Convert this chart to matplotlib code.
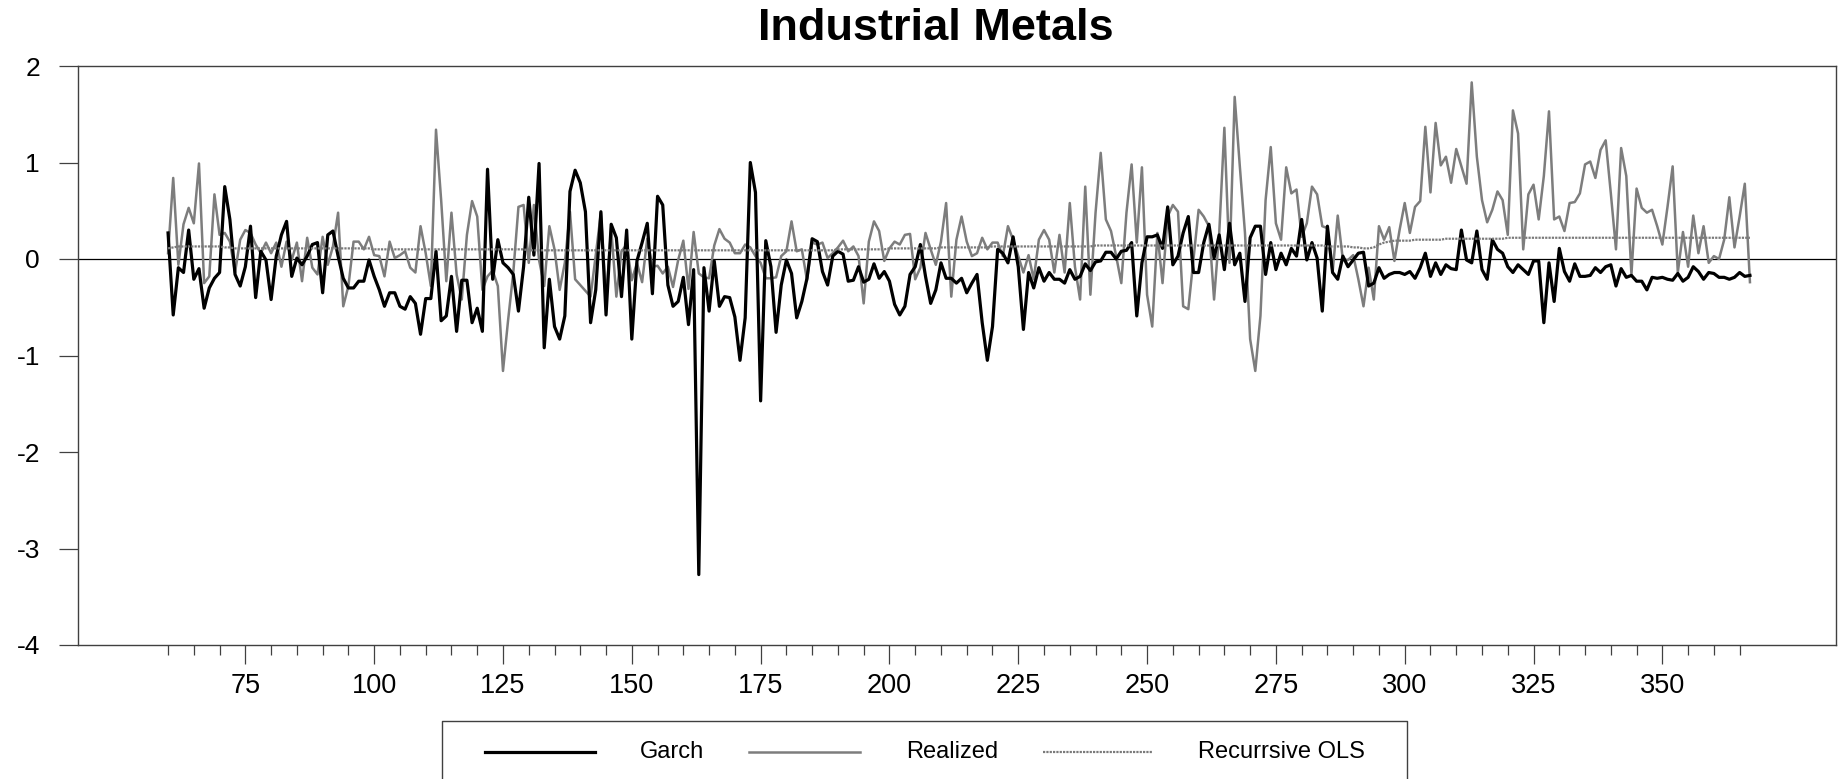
import numpy as np
import matplotlib
matplotlib.use("Agg")
import matplotlib.pyplot as plt
from matplotlib.lines import Line2D

plt.rcParams['font.family'] = ['Liberation Sans', 'DejaVu Sans']
plt.rcParams['axes.unicode_minus'] = False

# observations 60..367
obs_start = 60
obs_end = 367

garch = [
    0.27, -0.58, -0.09, -0.14, 0.30, -0.21, -0.10, -0.51, -0.30, -0.20,
    -0.14, 0.75, 0.41, -0.16, -0.28, -0.08, 0.34, -0.40, 0.08, -0.01,
    -0.42, 0.03, 0.25, 0.39, -0.18, 0.01, -0.06, 0.03, 0.15, 0.17,
    -0.35, 0.25, 0.29, 0.03, -0.20, -0.30, -0.30, -0.23, -0.23, -0.01,
    -0.18, -0.32, -0.49, -0.35, -0.35, -0.49, -0.52, -0.39, -0.46, -0.78,
    -0.41, -0.41, 0.08, -0.64, -0.59, -0.18, -0.75, -0.22, -0.22, -0.66,
    -0.51, -0.75, 0.93, -0.21, 0.20, -0.04, -0.09, -0.16, -0.54, -0.08,
    0.64, 0.04, 0.99, -0.92, -0.21, -0.70, -0.83, -0.59, 0.70, 0.92,
    0.79, 0.49, -0.66, -0.32, 0.49, -0.58, 0.36, 0.22, -0.39, 0.30,
    -0.83, -0.02, 0.17, 0.37, -0.36, 0.65, 0.56, -0.27, -0.49, -0.44,
    -0.19, -0.68, -0.11, -3.27, -0.09, -0.54, -0.02, -0.49, -0.39, -0.40,
    -0.60, -1.05, -0.61, 1.00, 0.69, -1.47, 0.19, -0.08, -0.76, -0.27,
    -0.01, -0.15, -0.61, -0.44, -0.20, 0.21, 0.18, -0.13, -0.27, 0.03,
    0.08, 0.05, -0.23, -0.22, -0.08, -0.24, -0.21, -0.05, -0.20, -0.13,
    -0.23, -0.47, -0.58, -0.49, -0.16, -0.08, 0.15, -0.18, -0.46, -0.32,
    -0.04, -0.20, -0.20, -0.25, -0.20, -0.35, -0.25, -0.16, -0.66, -1.05,
    -0.70, 0.10, 0.06, -0.04, 0.23, -0.08, -0.73, -0.14, -0.30, -0.09,
    -0.23, -0.14, -0.21, -0.21, -0.25, -0.11, -0.21, -0.18, -0.05, -0.12,
    -0.03, -0.02, 0.07, 0.07, 0.00, 0.08, 0.09, 0.17, -0.59, -0.04,
    0.23, 0.23, 0.25, 0.11, 0.54, -0.06, 0.03, 0.27, 0.44, -0.14,
    -0.14, 0.17, 0.36, 0.01, 0.25, -0.11, 0.37, -0.06, 0.06, -0.44,
    0.22, 0.34, 0.34, -0.16, 0.17, -0.11, 0.06, -0.06, 0.11, 0.03,
    0.41, -0.01, 0.17, 0.01, -0.54, 0.34, -0.14, -0.21, 0.03, -0.08,
    -0.01, 0.06, 0.07, -0.28, -0.25, -0.09, -0.20, -0.16, -0.14, -0.14,
    -0.16, -0.13, -0.20, -0.09, 0.06, -0.18, -0.04, -0.16, -0.06, -0.10,
    -0.11, 0.30, -0.01, -0.04, 0.29, -0.11, -0.21, 0.20, 0.10, 0.06,
    -0.08, -0.14, -0.06, -0.11, -0.16, -0.02, -0.02, -0.66, -0.04, -0.44,
    0.11, -0.13, -0.23, -0.05, -0.18, -0.18, -0.17, -0.09, -0.14, -0.08,
    -0.06, -0.28, -0.10, -0.19, -0.17, -0.23, -0.23, -0.32, -0.19, -0.20,
    -0.19, -0.21, -0.22, -0.15, -0.23, -0.19, -0.08, -0.13, -0.21, -0.14,
    -0.15, -0.19, -0.19, -0.21, -0.19, -0.14, -0.18, -0.17,
]

realized = [
    0.06, 0.84, -0.06, 0.36, 0.53, 0.37, 0.99, -0.25, -0.18, 0.67,
    0.25, 0.27, 0.18, -0.14, 0.20, 0.30, 0.27, 0.15, 0.06, 0.17,
    0.06, 0.17, -0.08, 0.18, -0.01, 0.17, -0.23, 0.22, -0.09, -0.16,
    0.23, -0.06, 0.13, 0.48, -0.49, -0.28, 0.18, 0.18, 0.10, 0.23,
    0.04, 0.03, -0.18, 0.18, 0.01, 0.04, 0.08, -0.09, -0.14, 0.34,
    0.06, -0.28, 1.34, 0.61, -0.23, 0.48, -0.16, -0.42, 0.25, 0.60,
    0.44, -0.32, -0.18, -0.12, -0.28, -1.16, -0.63, -0.14, 0.54, 0.56,
    -0.04, 0.56, -0.01, -0.28, 0.34, 0.10, -0.32, -0.04, 0.49, -0.21,
    -0.27, -0.33, -0.39, 0.04, 0.48, -0.42, 0.32, -0.39, 0.08, 0.15,
    -0.22, -0.04, -0.24, 0.21, -0.08, -0.07, -0.15, -0.08, -0.29, -0.01,
    0.19, -0.31, 0.28, -0.15, -0.19, -0.20, 0.14, 0.31, 0.21, 0.17,
    0.06, 0.06, 0.15, 0.12, 0.03, -0.04, -0.20, -0.20, -0.19, 0.03,
    0.08, 0.39, 0.08, 0.10, -0.22, 0.17, 0.15, 0.17, 0.01, 0.06,
    0.12, 0.19, 0.08, 0.13, 0.03, -0.46, 0.18, 0.39, 0.29, -0.02,
    0.11, 0.18, 0.15, 0.25, 0.26, -0.21, -0.09, 0.27, 0.10, -0.06,
    0.18, 0.58, -0.39, 0.20, 0.44, 0.18, 0.03, 0.06, 0.22, 0.10,
    0.17, 0.17, 0.03, 0.34, 0.20, 0.03, -0.14, 0.04, -0.21, 0.20,
    0.30, 0.20, -0.14, 0.25, -0.14, 0.58, -0.08, -0.42, 0.75, -0.37,
    0.48, 1.10, 0.41, 0.29, 0.03, -0.25, 0.48, 0.98, 0.17, 0.95,
    -0.37, -0.70, 0.27, -0.25, 0.44, 0.56, 0.49, -0.49, -0.52, -0.01,
    0.51, 0.44, 0.34, -0.42, 0.27, 1.36, -0.04, 1.68, 0.96, 0.27,
    -0.83, -1.16, -0.59, 0.61, 1.16, 0.37, 0.20, 0.95, 0.68, 0.72,
    0.23, 0.37, 0.75, 0.67, 0.34, 0.32, -0.14, 0.45, -0.01, -0.01,
    0.04, -0.21, -0.49, -0.09, -0.42, 0.34, 0.20, 0.33, -0.02, 0.30,
    0.58, 0.27, 0.54, 0.60, 1.37, 0.69, 1.41, 0.97, 1.06, 0.79,
    1.14, 0.96, 0.78, 1.83, 1.06, 0.61, 0.38, 0.51, 0.70, 0.61,
    0.25, 1.54, 1.30, 0.10, 0.67, 0.77, 0.41, 0.86, 1.53, 0.41,
    0.44, 0.29, 0.58, 0.59, 0.68, 0.98, 1.01, 0.84, 1.13, 1.23,
    0.68, 0.10, 1.15, 0.86, -0.16, 0.73, 0.53, 0.48, 0.51, 0.34,
    0.15, 0.54, 0.96, -0.14, 0.28, -0.08, 0.45, 0.06, 0.34, -0.04,
    0.03, 0.00, 0.20, 0.64, 0.12, 0.44, 0.78, -0.24,
]

recursive_ols = [
    0.11, 0.12, 0.13, 0.13, 0.13, 0.13, 0.13, 0.13, 0.13, 0.13,
    0.13, 0.12, 0.12, 0.11, 0.11, 0.11, 0.11, 0.11, 0.11, 0.11,
    0.11, 0.11, 0.11, 0.11, 0.11, 0.11, 0.11, 0.11, 0.11, 0.11,
    0.11, 0.11, 0.11, 0.11, 0.11, 0.11, 0.11, 0.11, 0.11, 0.11,
    0.10, 0.10, 0.10, 0.10, 0.10, 0.10, 0.10, 0.10, 0.10, 0.10,
    0.10, 0.10, 0.10, 0.10, 0.10, 0.10, 0.10, 0.10, 0.10, 0.10,
    0.10, 0.10, 0.10, 0.10, 0.10, 0.10, 0.10, 0.10, 0.10, 0.10,
    0.09, 0.09, 0.09, 0.09, 0.09, 0.09, 0.09, 0.09, 0.09, 0.09,
    0.09, 0.09, 0.09, 0.09, 0.09, 0.09, 0.09, 0.09, 0.09, 0.09,
    0.09, 0.09, 0.09, 0.09, 0.09, 0.09, 0.09, 0.09, 0.09, 0.09,
    0.09, 0.09, 0.09, 0.09, 0.09, 0.09, 0.09, 0.09, 0.09, 0.09,
    0.09, 0.09, 0.09, 0.09, 0.09, 0.09, 0.09, 0.09, 0.09, 0.09,
    0.09, 0.09, 0.09, 0.09, 0.09, 0.09, 0.09, 0.09, 0.09, 0.09,
    0.10, 0.10, 0.10, 0.10, 0.10, 0.10, 0.10, 0.10, 0.10, 0.10,
    0.11, 0.11, 0.11, 0.11, 0.11, 0.11, 0.11, 0.11, 0.11, 0.11,
    0.12, 0.12, 0.12, 0.12, 0.12, 0.12, 0.12, 0.12, 0.12, 0.12,
    0.13, 0.13, 0.13, 0.13, 0.13, 0.13, 0.13, 0.13, 0.13, 0.13,
    0.13, 0.13, 0.13, 0.13, 0.13, 0.13, 0.13, 0.13, 0.13, 0.13,
    0.14, 0.14, 0.14, 0.14, 0.14, 0.14, 0.14, 0.14, 0.14, 0.14,
    0.14, 0.14, 0.14, 0.14, 0.14, 0.14, 0.14, 0.14, 0.14, 0.14,
    0.14, 0.14, 0.14, 0.14, 0.14, 0.14, 0.14, 0.14, 0.14, 0.14,
    0.14, 0.14, 0.14, 0.14, 0.14, 0.14, 0.14, 0.14, 0.14, 0.14,
    0.14, 0.14, 0.14, 0.14, 0.14, 0.13, 0.13, 0.13, 0.13, 0.13,
    0.12, 0.12, 0.11, 0.11, 0.12, 0.15, 0.17, 0.18, 0.19, 0.19,
    0.19, 0.19, 0.20, 0.20, 0.20, 0.20, 0.20, 0.20, 0.21, 0.21,
    0.21, 0.21, 0.21, 0.21, 0.21, 0.21, 0.21, 0.21, 0.21, 0.21,
    0.22, 0.22, 0.22, 0.22, 0.22, 0.22, 0.22, 0.22, 0.22, 0.22,
    0.22, 0.22, 0.22, 0.22, 0.22, 0.22, 0.22, 0.22, 0.22, 0.22,
    0.22, 0.22, 0.22, 0.22, 0.22, 0.22, 0.22, 0.22, 0.22, 0.22,
    0.22, 0.22, 0.22, 0.22, 0.22, 0.22, 0.22, 0.22, 0.22, 0.22,
    0.22, 0.22, 0.22, 0.22, 0.22, 0.22, 0.22, 0.22,
]

series_names = ['Garch', 'Realized', 'Recurrsive OLS']
x_labels = [75, 100, 125, 150, 175, 200, 225, 250, 275, 300, 325, 350]
y_ticks = [-4, -3, -2, -1, 0, 1, 2]

obs = np.arange(obs_start, obs_end + 1)

W, H = 1843, 779
fig = plt.figure(figsize=(W / 100, H / 100), dpi=100)
ax = fig.add_axes([78.4 / W, 1 - 645 / H, (1836 - 78.4) / W, (645 - 66) / H])

frame_col = '#404040'
garch_style = dict(color='black', lw=2.3)
real_style = dict(color='#7d7d7d', lw=1.8)
ols_style = dict(color='#7a7a7a', lw=1.6, ls=(0, (1, 0.5)))

ax.axhline(0, color='black', lw=0.9, zorder=1)
ax.plot(obs, garch, zorder=3, **garch_style)
ax.plot(obs, realized, zorder=2, **real_style)
ax.plot(obs, recursive_ols, zorder=4, **ols_style)

ax.set_xlim(42.6, 383.7)
ax.set_ylim(-4, 2)

ax.set_yticks(y_ticks)
ax.set_yticklabels([str(v) for v in y_ticks], fontsize=19)
ax.set_xticks(x_labels)
ax.set_xticklabels([str(v) for v in x_labels], fontsize=19.5)
minor = [v for v in range(60, 366, 5) if v not in x_labels]
ax.set_xticks(minor, minor=True)

ax.tick_params(axis='y', direction='out', length=13.7, width=0.9, color=frame_col, pad=14)
ax.tick_params(axis='x', which='major', direction='out', length=14, width=0.9, color=frame_col, pad=6)
ax.tick_params(axis='x', which='minor', direction='out', length=7, width=0.9, color=frame_col)

for s in ax.spines.values():
    s.set_color(frame_col)
    s.set_linewidth(1.0)

fig.text(936 / W, 1 - 28 / H, 'Industrial Metals', ha='center', va='center',
         fontsize=32.5, fontweight='bold')

# legend box (bottom edge runs off the picture)
def fx(px):
    return px / W

def fy(py):
    return 1 - py / H

box = Line2D([fx(442), fx(442), fx(1407), fx(1407)], [fy(790), fy(721), fy(721), fy(790)],
             color=frame_col, lw=1.0, transform=fig.transFigure)
fig.add_artist(box)

ly = 752
fig.add_artist(Line2D([fx(485), fx(595)], [fy(ly), fy(ly)], transform=fig.transFigure, **garch_style))
fig.add_artist(Line2D([fx(749), fx(860)], [fy(ly), fy(ly)], transform=fig.transFigure, **real_style))
fig.add_artist(Line2D([fx(1043), fx(1153)], [fy(ly), fy(ly)], transform=fig.transFigure, **ols_style))
fig.text(fx(640), fy(ly), series_names[0], ha='left', va='center', fontsize=17)
fig.text(fx(906), fy(ly), series_names[1], ha='left', va='center', fontsize=17)
fig.text(fx(1198), fy(ly), series_names[2], ha='left', va='center', fontsize=17)

fig.savefig('out.png', dpi=100)
